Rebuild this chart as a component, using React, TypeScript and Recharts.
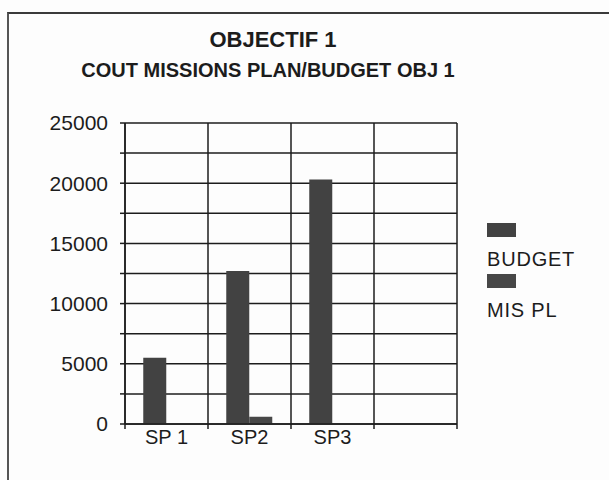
import * as React from "react";
import { Bar, BarChart, CartesianGrid, XAxis, YAxis } from "recharts";

// Scanned office chart: "OBJECTIF 1" budget vs planned missions, grey bars on a dense grid.
const categories = ["SP 1", "SP2", "SP3", ""];
const budget = [5500, 12700, 20300, 0];
const misPl = [0, 600, 0, 0];
const yTicks = [0, 2500, 5000, 7500, 10000, 12500, 15000, 17500, 20000, 22500, 25000];

const series = [
  { key: "budget", label: "BUDGET", color: "#424242" },
  { key: "misPl", label: "MIS PL", color: "#474747" },
];

const data = categories.map((name, i) => ({ name, budget: budget[i], misPl: misPl[i] }));

const W = 609;
const H = 480;
const M = { top: 123, right: 152, bottom: 26, left: 65 };
const Y_W = 60;
const X_H = 30;
const PLOT_W = W - M.left - Y_W - M.right;
const BAND = PLOT_W / categories.length;
const ink = "#1c1c1c";
const font = '"Liberation Sans", Arial, sans-serif';

function XTick(props: any) {
  const { x, y, payload, index } = props;
  const left = x - BAND / 2;
  return (
    <g>
      <line x1={left} x2={left} y1={y - 6} y2={y - 1} stroke={ink} strokeWidth={1.5} />
      {index === categories.length - 1 && (
        <line x1={left + BAND} x2={left + BAND} y1={y - 6} y2={y - 1} stroke={ink} strokeWidth={1.5} />
      )}
      <text x={x} y={y} dy="0.71em" textAnchor="middle" fill={ink} fontSize={20} fontFamily={font}>
        {payload.value}
      </text>
    </g>
  );
}

// legend drawn as plain HTML so it doesn't eat into the plot area
function LegendBox() {
  return (
    <div
      style={{
        position: "absolute",
        left: 487,
        top: 223,
        fontFamily: font,
        fontSize: 20,
        lineHeight: "20px",
        color: ink,
        letterSpacing: 0.8,
      }}
    >
      {series.map((s, i) => (
        <div key={s.key} style={{ marginTop: i === 0 ? 0 : 5 }}>
          <div style={{ width: 29, height: 14, background: s.color }} />
          <div style={{ marginTop: 12 }}>{s.label}</div>
        </div>
      ))}
    </div>
  );
}

export default function App() {
  return (
    <div style={{ position: "absolute", left: 0, top: 0, width: W, height: H, background: "#fdfdfd", overflow: "hidden" }}>
      <div
        style={{
          position: "absolute",
          left: 7,
          top: 12,
          width: W,
          height: H,
          borderTop: "2px solid #3a3a3a",
          borderLeft: "2px solid #555",
        }}
      />
      <div
        style={{
          position: "absolute",
          left: 73,
          top: 29,
          width: 400,
          textAlign: "center",
          fontFamily: font,
          fontWeight: "bold",
          fontSize: 22,
          lineHeight: "22px",
          color: ink,
        }}
      >
        OBJECTIF 1
      </div>
      <div
        style={{
          position: "absolute",
          left: 18,
          top: 60,
          width: 500,
          textAlign: "center",
          fontFamily: font,
          fontWeight: "bold",
          fontSize: 20,
          lineHeight: "20px",
          color: ink,
        }}
      >
        COUT MISSIONS PLAN/BUDGET OBJ 1
      </div>
      <div style={{ position: "absolute", left: 0, top: 0 }}>
        <BarChart width={W} height={H} data={data} margin={M} barCategoryGap="22%" barGap={0}>
          <CartesianGrid
            stroke={ink}
            strokeWidth={1.5}
            verticalCoordinatesGenerator={({ offset }: any) =>
              categories.map((_, i) => offset.left + i * (offset.width / categories.length)).concat(offset.left + offset.width)
            }
          />
          <XAxis
            dataKey="name"
            height={X_H}
            axisLine={{ stroke: ink, strokeWidth: 1.5 }}
            tickLine={false}
            tickSize={0}
            tickMargin={6}
            tick={<XTick />}
            interval={0}
          />
          <YAxis
            width={Y_W}
            domain={[0, 25000]}
            ticks={yTicks}
            interval={0}
            axisLine={{ stroke: ink, strokeWidth: 1.5 }}
            tickLine={{ stroke: ink, strokeWidth: 1.5 }}
            tickSize={5}
            tickMargin={12}
            tick={{ fill: ink, fontSize: 21, fontFamily: font }}
            tickFormatter={(v: number) => (v % 5000 === 0 ? String(v) : "")}
          />
          {series.map((s) => (
            <Bar key={s.key} dataKey={s.key} name={s.label} fill={s.color} isAnimationActive={false} />
          ))}
        </BarChart>
      </div>
      <LegendBox />
    </div>
  );
}
